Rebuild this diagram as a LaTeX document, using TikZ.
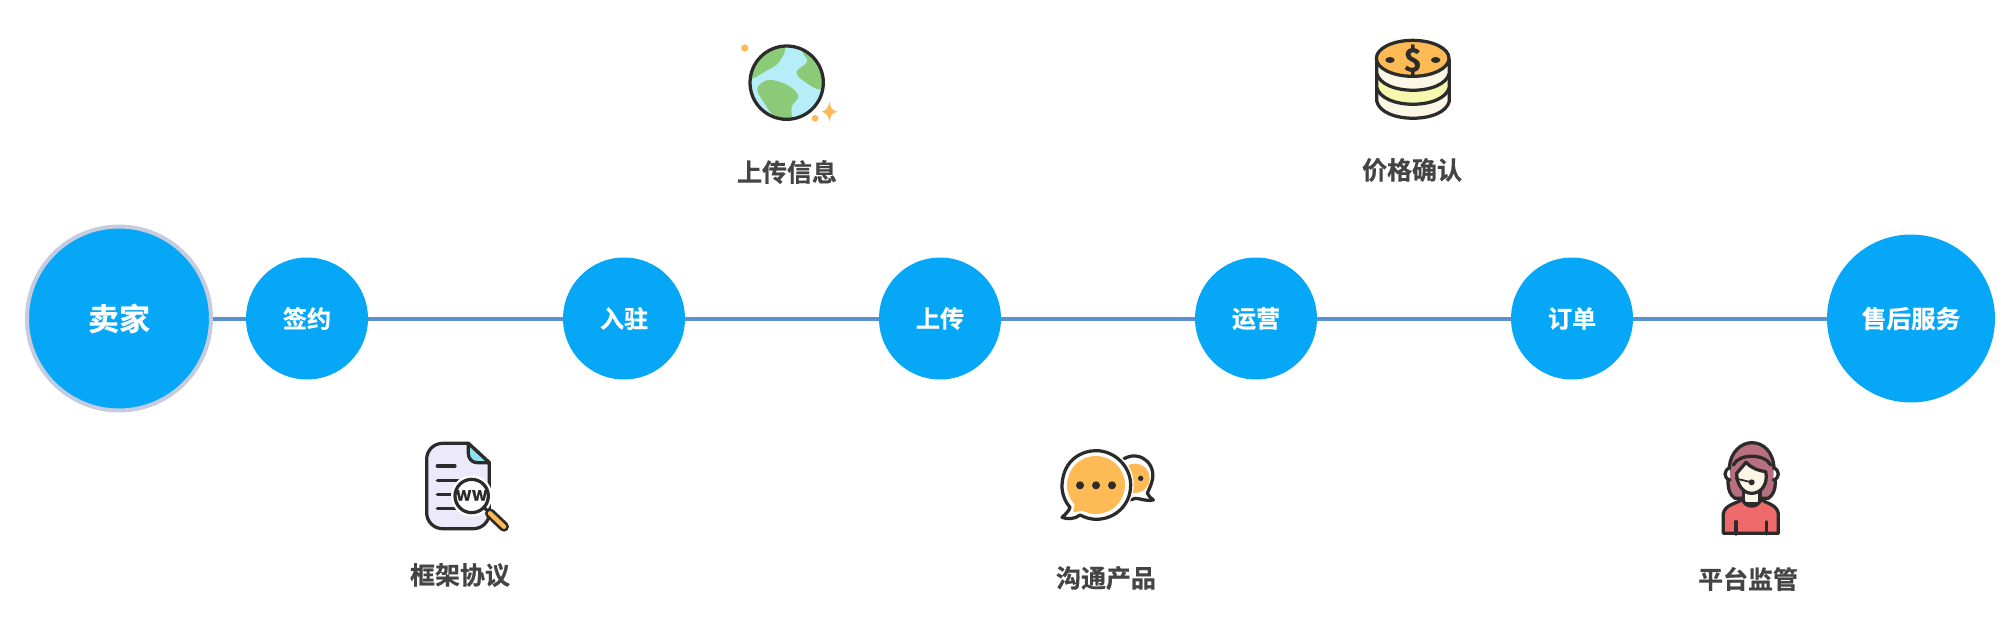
\documentclass[tikz,border=0pt]{standalone}
\usepackage{fontspec}
\setmainfont{Noto Sans CJK SC}[BoldFont={Noto Sans CJK SC Bold},BoldFeatures={FakeBold=0.6}]
\usetikzlibrary{calc}

\definecolor{stopblue}{HTML}{06A7F7}
\definecolor{linkblue}{HTML}{5A8FD0}
\definecolor{ringgrey}{HTML}{C6CCE0}
\definecolor{labelgrey}{HTML}{444444}
\definecolor{inkdark}{HTML}{2B2B2B}
\definecolor{seablue}{HTML}{B5EEF8}
\definecolor{landgreen}{HTML}{8BCB78}
\definecolor{goldorange}{HTML}{FDBA55}
\definecolor{creamcoin}{HTML}{FBF6E6}
\definecolor{palecoin}{HTML}{F7F7AE}
\definecolor{paperlilac}{HTML}{ECE9FB}
\definecolor{foldcyan}{HTML}{8FE3EE}
\definecolor{hairrose}{HTML}{B8707F}
\definecolor{shirtred}{HTML}{EF6A6A}

\begin{document}
\begin{tikzpicture}[x=0.02cm,y=-0.02cm,
  stop/.style={circle,fill=stopblue,text=white,inner sep=0pt,minimum size=2.44cm,font=\bfseries\fontsize{13.7}{16}\selectfont},
  startstop/.style={stop,draw=ringgrey,line width=0.08cm,minimum size=3.68cm,font=\bfseries\fontsize{17.6}{20}\selectfont},
  endstop/.style={stop,minimum size=3.36cm,font=\bfseries\fontsize{14}{17}\selectfont},
  link/.style={draw=linkblue,line width=0.08cm},
  tag/.style={text=labelgrey,inner sep=0pt,font=\bfseries\fontsize{14.2}{17}\selectfont},
  ink/.style={draw=inkdark,line width=0.065cm,line join=round,line cap=round},
  crop/.style={x=0.006667cm,y=-0.006667cm}]
  \useasboundingbox (0,0) rectangle (2014,636);

 % stops
  \coordinate (S0) at (119,318.5);
  \coordinate (S1) at (307,318.5);
  \coordinate (S2) at (624,318.5);
  \coordinate (S3) at (940,318.5);
  \coordinate (S4) at (1256,318.5);
  \coordinate (S5) at (1572,318.5);
  \coordinate (S6) at (1911,318.5);
  \node[startstop] (seller) at (S0) {卖家};
  \node[stop] (sign) at (S1) {签约};
  \node[stop] (enter) at (S2) {入驻};
  \node[stop] (upload) at (S3) {上传};
  \node[stop] (operate) at (S4) {运营};
  \node[stop] (order) at (S5) {订单};
  \node[endstop] (service) at (S6) {售后服务};
  \draw[link] (seller) -- (sign);
  \draw[link] (sign) -- (enter);
  \draw[link] (enter) -- (upload);
  \draw[link] (upload) -- (operate);
  \draw[link] (operate) -- (order);
  \draw[link] (order) -- (service);

 % labels
  \node[tag] (tagglobe) at (787,172) {上传信息};
  \node[tag] (tagcoins) at (1412,170) {价格确认};
  \node[tag] (tagdoc) at (460,575) {框架协议};
  \node[tag] (tagchat) at (1106,578) {沟通产品};
  \node[tag] (tagagent) at (1748,579) {平台监管};

 % globe
  \begin{scope}[shift={(700,20)},crop]
  \coordinate (GC) at (260,188);
  \fill[seablue] (GC) circle (110);
  \begin{scope}
    \clip (GC) circle (110);
    \fill[landgreen] plot[smooth cycle,tension=0.6] coordinates {(140,178) (200,152) (238,125) (252,78) (170,60) (120,120)};
    \fill[landgreen] plot[smooth cycle,tension=0.6] coordinates {(172,205) (205,180) (262,195) (295,228) (275,260) (272,300) (225,290) (190,245)};
    \fill[landgreen] plot[smooth cycle,tension=0.6] coordinates {(308,95) (322,125) (290,155) (310,182) (365,208) (395,150) (350,90)};
  \end{scope}
  \draw[ink] (GC) circle (110);
  \fill[goldorange] (134,84) circle (11);
  \fill[goldorange] (345,295) circle (10);
  \fill[goldorange] (388,245) .. controls (392,265) and (396,270) .. (412,275) .. controls (396,280) and (392,285) .. (388,305) .. controls (384,285) and (380,280) .. (365,275) .. controls (380,270) and (384,265) .. (388,245) -- cycle;
  \end{scope}

 % coins
  \begin{scope}[shift={(1340,20)},crop]
  \draw[ink,fill=creamcoin] (110,120) -- (110,243) .. controls (125,312) and (313,312) .. (328,243) -- (328,120) -- cycle;
  \draw[ink,fill=palecoin] (110,120) -- (110,201) .. controls (125,270) and (313,270) .. (328,201) -- (328,120) -- cycle;
  \draw[ink,fill=creamcoin] (110,120) -- (110,159) .. controls (125,228) and (313,228) .. (328,159) -- (328,120) -- cycle;
  \draw[ink,fill=goldorange] (218,115) ellipse (109 and 54);
  \fill[inkdark] (150,120) ellipse (14 and 9);
  \fill[inkdark] (287,120) ellipse (14 and 9);
  \node[text=inkdark,inner sep=0pt,font=\bfseries\fontsize{18}{19}\selectfont] (dollar) at (218,120) {\$};
  \end{scope}

 % document
  \begin{scope}[shift={(400,430)},crop]
  \draw[ink,fill=paperlilac] (205,40) [rounded corners=9] -- (80,40) -- (80,296) -- (268,296) [sharp corners] -- (268,98) -- cycle;
  \draw[ink,fill=foldcyan] (205,40) -- (268,98) -- (232,98) .. controls (215,98) and (205,85) .. (205,70) -- cycle;
  \draw[ink] (112,108) -- (165,108);
  \draw[ink] (112,152) -- (175,152);
  \draw[ink] (112,194) -- (165,194);
  \draw[ink] (112,236) -- (175,236);
  \fill[white] (215,198) circle (62);
  \draw[ink] (215,198) circle (50);
  \node[text=inkdark,inner sep=0pt,font=\bfseries\fontsize{10.5}{11}\selectfont] (www) at (215,196) {ww};
  \draw[ink] (252,232) -- (270,250);
  \draw[draw=inkdark,line width=0.2cm,line cap=round] (270,250) -- (312,290);
  \draw[draw=goldorange,line width=0.09cm,line cap=round] (270,250) -- (312,290);
  \end{scope}

 % chat
  \begin{scope}[shift={(1040,430)},crop]
  \draw[ink,fill=white] (240,95) .. controls (285,55) and (345,90) .. (338,145) .. controls (335,165) and (325,180) .. (322,190) .. controls (325,200) and (335,205) .. (340,210) .. controls (320,215) and (300,205) .. (285,205) .. controls (265,215) and (250,205) .. (240,195) -- cycle;
  \fill[goldorange] (285,145) circle (44);
  \fill[inkdark] (302,145) circle (8);
  \fill[white] (168,165) circle (113);
  \draw[ink,fill=white] (66,165) .. controls (70,85) and (130,62) .. (168,62) .. controls (225,62) and (272,110) .. (272,165) .. controls (272,225) and (225,268) .. (168,268) .. controls (150,268) and (135,262) .. (120,255) .. controls (105,268) and (80,268) .. (66,262) .. controls (80,250) and (88,240) .. (90,232) .. controls (75,215) and (65,190) .. (66,165) -- cycle;
  \fill[goldorange] (168,165) circle (87);
  \fill[goldorange] (100,247) -- (105,215) -- (135,240) -- cycle;
  \fill[inkdark] (120,166) circle (12);
  \fill[inkdark] (168,166) circle (12);
  \fill[inkdark] (216,166) circle (12);
  \end{scope}

 % agent
  \begin{scope}[shift={(1700,430)},crop]
  \draw[ink,fill=hairrose] (105,205) .. controls (75,185) and (85,140) .. (88,110) .. controls (92,65) and (125,38) .. (155,38) .. controls (190,38) and (218,65) .. (222,110) .. controls (225,140) and (235,185) .. (205,205) -- cycle;
  \draw[ink] (100,105) .. controls (115,70) and (195,70) .. (212,105);
  \draw[ink,fill=white] (90,113) .. controls (70,120) and (70,145) .. (90,150);
  \draw[ink,fill=white] (220,113) .. controls (240,120) and (240,145) .. (220,150);
  \draw[ink,fill=creamcoin] (130,175) -- (130,220) -- (180,220) -- (180,175) -- cycle;
  \draw[ink,fill=shirtred] (70,310) -- (70,250) .. controls (75,225) and (105,222) .. (128,208) .. controls (135,235) and (175,235) .. (182,208) .. controls (205,222) and (230,225) .. (235,250) -- (235,310) -- cycle;
  \draw[ink,fill=creamcoin] (110,130) -- (138,97) .. controls (155,115) and (175,122) .. (197,125) .. controls (205,160) and (185,190) .. (155,190) .. controls (130,190) and (110,165) .. (110,130) -- cycle;
  \draw[ink] (108,275) -- (108,312);
  \draw[ink] (200,275) -- (200,312);
  \draw[draw=inkdark,line width=0.035cm] (105,145) -- (155,157);
  \fill[inkdark] (155,157) circle (9);
  \end{scope}
\end{tikzpicture}
\end{document}
